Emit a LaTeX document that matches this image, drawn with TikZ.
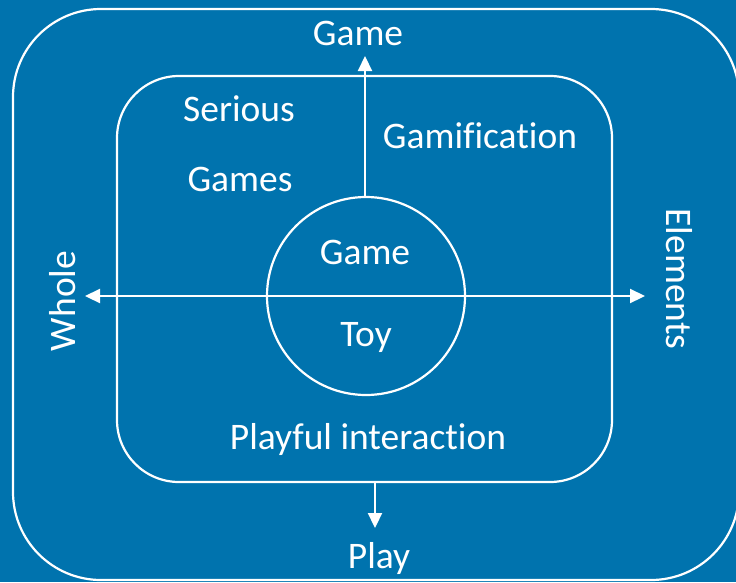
\documentclass[tikz,border=0pt]{standalone}
\usepackage{fontspec}
\setmainfont{Carlito}[Ligatures=NoCommon]
\usetikzlibrary{arrows.meta}
\definecolor{bgblue}{RGB}{0,115,174}
\begin{document}
\begin{tikzpicture}[x=1pt,y=-1pt,
  line/.style={draw=white, line width=2.2pt},
  arr/.style={line, -{Triangle[length=15pt,width=14pt]}},
  lbl/.style={text=white, font=\fontsize{37.5}{44}\selectfont, anchor=base, inner sep=0pt}]
\fill[bgblue] (0,0) rectangle (736,582);
\useasboundingbox (0,0) rectangle (736,582);
% outer and inner rounded frames
\draw[line, rounded corners=88pt] (13,9) rectangle (739,580);
\draw[line, rounded corners=62pt] (117,76) rectangle (612,482);
\node[line, circle, minimum size=198pt, inner sep=0pt] (c) at (366,296) {};
% axis ends
\coordinate (left) at (85,296);
\coordinate (right) at (645,296);
\coordinate (top) at (365,56);
\coordinate (ibot) at (375,482);
\coordinate (bot) at (375,528);
\draw[arr] (c.center) -- (left);
\draw[arr] (c.center) -- (right);
\draw[arr] (c.north -| top) -- (top);
\draw[arr] (ibot) -- (bot);
% labels
\node[lbl] (tgame) at (358,45) {Game};
\node[lbl] (ser) at (239,121) {Serious};
\node[lbl] (gms) at (240,191) {Games};
\node[lbl] (gam) at (480,148) {Gamification};
\node[lbl] (cgame) at (365,264) {Game};
\node[lbl] (toy) at (366,346) {Toy};
\node[lbl] (play) at (368,449) {Playful interaction};
\node[lbl] (pl) at (379,568) {Play};
\node[lbl, rotate=90] (whole) at (75,301) {Whole};
\node[lbl, rotate=-90] (elem) at (666,279) {Elements};
\end{tikzpicture}
\end{document}
